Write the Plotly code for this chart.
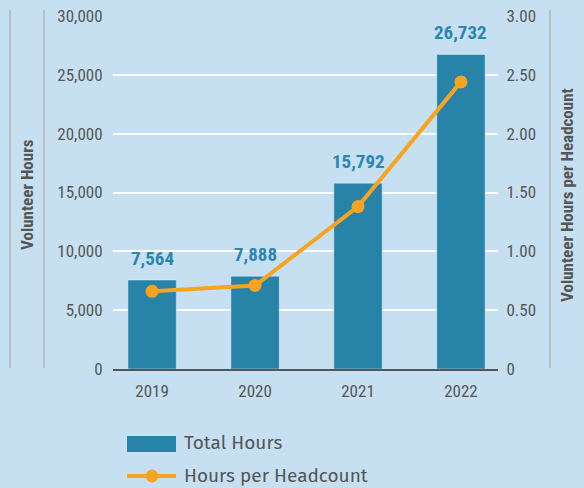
import plotly.graph_objects as go

years = ["2019", "2020", "2021", "2022"]
total_hours = [7564, 7888, 15792, 26732]
hours_per_headcount = [0.66, 0.71, 1.38, 2.44]
left_ticks = [0, 5000, 10000, 15000, 20000, 25000, 30000]
right_ticks = [0, 0.5, 1.0, 1.5, 2.0, 2.5, 3.0]
right_tick_text = ["0", "0.50", "1.00", "1.50", "2.00", "2.50", "3.00"]

BAR = "#2783a8"
LINE = "#f7a520"
BG = "#c6e0f2"
GREY = "#555555"
COND = "Liberation Sans Narrow, Roboto Condensed, Arial Narrow, sans-serif"
LEGF = "Fira Sans, Open Sans, Noto Sans, sans-serif"

fig = go.Figure()
fig.add_trace(go.Bar(x=years, y=total_hours, marker_color=BAR, width=0.47,
                     name="Total Hours", showlegend=False, yaxis="y"))
fig.add_trace(go.Scatter(x=years, y=hours_per_headcount, mode="lines+markers",
                         line=dict(color=LINE, width=4), marker=dict(size=13, color=LINE),
                         name="Hours per Headcount", showlegend=False, yaxis="y2"))

# data labels (category axis: annotation x uses the category index)
for i, v in enumerate(total_hours):
    fig.add_annotation(x=i, y=v, xref="x", yref="y", text=f"<b>{v:,}</b>", showarrow=False,
                       xanchor="center", yanchor="bottom", yshift=8,
                       font=dict(family=COND, size=19, color="#2a86ad"))


def px2x(px):
    return (px - 113) / 385


def py2y(py):
    return (369 - py) / 353


# axis titles
fig.add_annotation(xref="paper", yref="paper", x=px2x(27), y=py2y(195),
                   xanchor="center", yanchor="middle",
                   text="<b>Volunteer Hours</b>", textangle=-90, showarrow=False,
                   font=dict(family=COND, size=17, color=GREY))
fig.add_annotation(xref="paper", yref="paper", x=px2x(567), y=py2y(195),
                   xanchor="center", yanchor="middle",
                   text="<b>Volunteer Hours per Headcount</b>", textangle=-90, showarrow=False,
                   font=dict(family=COND, size=17, color=GREY))

# decorative vertical lines
for px in [10, 44, 550]:
    fig.add_shape(type="line", xref="paper", yref="paper",
                  x0=px2x(px), x1=px2x(px), y0=py2y(368), y1=py2y(10),
                  line=dict(color="#b9bec3", width=2))

# custom legend
fig.add_shape(type="rect", xref="paper", yref="paper", x0=px2x(127), x1=px2x(176),
              y0=py2y(452), y1=py2y(436), fillcolor=BAR, line=dict(width=0))
fig.add_annotation(xref="paper", yref="paper", x=px2x(182), y=py2y(442),
                   xanchor="left", yanchor="middle",
                   text="Total Hours", showarrow=False, font=dict(family=LEGF, size=19, color=GREY))
fig.add_shape(type="line", xref="paper", yref="paper", x0=px2x(127), x1=px2x(176),
              y0=py2y(476), y1=py2y(476), line=dict(color=LINE, width=4))
fig.add_shape(type="circle", xref="paper", yref="paper", x0=px2x(145.5), x1=px2x(158.5),
              y0=py2y(482.5), y1=py2y(469.5), fillcolor=LINE, line=dict(width=0))
fig.add_annotation(xref="paper", yref="paper", x=px2x(182), y=py2y(475),
                   xanchor="left", yanchor="middle",
                   text="Hours per Headcount", showarrow=False, font=dict(family=LEGF, size=19, color=GREY))

fig.update_layout(
    width=584, height=488,
    margin=dict(l=113, r=86, t=16, b=119, autoexpand=False),
    paper_bgcolor=BG, plot_bgcolor=BG,
    showlegend=False,
    xaxis=dict(type="category", range=[-0.38, 3.36], showgrid=False, showline=True,
               linecolor=GREY, linewidth=2, automargin=False,
               ticks="outside", ticklen=6, tickcolor="rgba(0,0,0,0)",
               tickfont=dict(family=COND, size=17, color=GREY), fixedrange=True),
    yaxis=dict(range=[0, 30000], tickvals=left_ticks, tickformat=",", showgrid=True,
               gridcolor="white", gridwidth=2, zeroline=False, showline=False, automargin=False,
               ticks="outside", ticklen=6, tickcolor="rgba(0,0,0,0)",
               tickfont=dict(family=COND, size=17, color=GREY)),
    yaxis2=dict(range=[0, 3], overlaying="y", side="right", tickvals=right_ticks,
                ticktext=right_tick_text, showgrid=False, zeroline=False, showline=False,
                automargin=False,
                ticks="outside", ticklen=4, tickcolor="rgba(0,0,0,0)",
                tickfont=dict(family=COND, size=17, color=GREY)),
)

fig.write_html("out.html", config={"displayModeBar": False},
               post_script="document.body.style.margin='0';")
